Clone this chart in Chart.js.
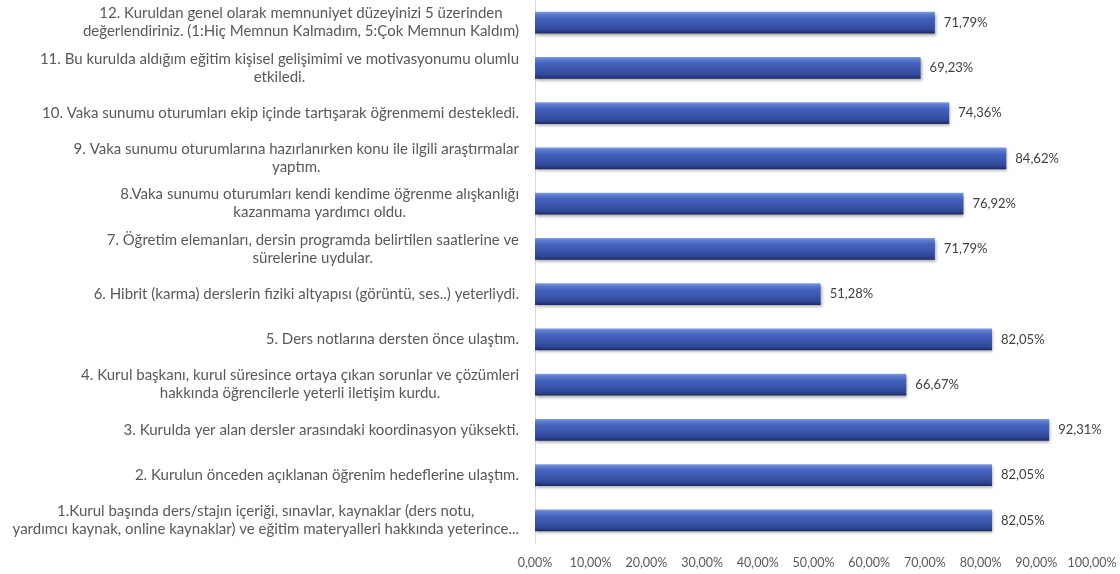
<!DOCTYPE html>
<html>
<head>
<meta charset="utf-8">
<script src="https://cdn.jsdelivr.net/npm/chart.js@4"></script>
<style>
  html, body { margin: 0; padding: 0; background: #fff; }
  #wrap { width: 1120px; height: 574px; position: relative; }
</style>
</head>
<body>
<div id="wrap"><canvas id="surveyChart"></canvas></div>
<script>
const questions = [
  ['1.Kurul başında ders/stajın içeriği, sınavlar, kaynaklar (ders notu,', 'yardımcı kaynak, online kaynaklar) ve eğitim materyalleri hakkında yeterince...'],
  ['2. Kurulun önceden açıklanan öğrenim hedeflerine ulaştım.'],
  ['3. Kurulda yer alan dersler arasındaki koordinasyon yüksekti.'],
  ['4. Kurul başkanı, kurul süresince ortaya çıkan sorunlar ve çözümleri', 'hakkında öğrencilerle yeterli iletişim kurdu.'],
  ['5. Ders notlarına dersten önce ulaştım.'],
  ['6. Hibrit (karma) derslerin fiziki altyapısı (görüntü, ses..) yeterliydi.'],
  ['7. Öğretim elemanları, dersin programda belirtilen saatlerine ve', 'sürelerine uydular.'],
  ['8.Vaka sunumu oturumları kendi kendime öğrenme alışkanlığı', 'kazanmama yardımcı oldu.'],
  ['9. Vaka sunumu oturumlarına hazırlanırken konu ile ilgili araştırmalar', 'yaptım.'],
  ['10. Vaka sunumu oturumları ekip içinde tartışarak öğrenmemi destekledi.'],
  ['11. Bu kurulda aldığım eğitim kişisel gelişimimi ve motivasyonumu olumlu', 'etkiledi.'],
  ['12. Kuruldan genel olarak memnuniyet düzeyinizi 5 üzerinden', 'değerlendiriniz. (1:Hiç Memnun Kalmadım, 5:Çok Memnun Kaldım)']
];
const percentages = [82.05, 82.05, 92.31, 66.67, 82.05, 51.28, 71.79, 76.92, 84.62, 74.36, 69.23, 71.79];
const axisMin = 0;
const axisMax = 100;
const axisStep = 10;

const FONT = 'Lato, "Open Sans", sans-serif';
const TEXT = '#595959';

function pct(v) {
  return v.toFixed(2).replace('.', ',') + '%';
}

// cylinder-like gradient for each bar, like the office 3D bar style
function barFill(c) {
  const chart = c.chart;
  if (!chart.chartArea || c.dataIndex === undefined) return '#3f5db8';
  const y = chart.scales.y;
  const mid = y.getPixelForValue(c.dataIndex);
  const half = Math.abs(y.getPixelForValue(1) - y.getPixelForValue(0)) * 0.486 / 2;
  const g = chart.ctx.createLinearGradient(0, mid - half, 0, mid + half);
  g.addColorStop(0, '#86a2e6');
  g.addColorStop(0.1, '#5f7fd4');
  g.addColorStop(0.3, '#4462bd');
  g.addColorStop(0.6, '#3a55aa');
  g.addColorStop(0.85, '#2e4593');
  g.addColorStop(1, '#1b285c');
  return g;
}

const barShadow = {
  id: 'barShadow',
  beforeDatasetsDraw(chart) {
    const ctx = chart.ctx;
    ctx.save();
    ctx.shadowColor = 'rgba(0,0,0,0.35)';
    ctx.shadowBlur = 3;
    ctx.shadowOffsetY = 2;
    ctx.shadowOffsetX = 1;
  },
  afterDatasetsDraw(chart) {
    chart.ctx.restore();
  }
};

const valueLabels = {
  id: 'valueLabels',
  afterDraw(chart) {
    const ctx = chart.ctx;
    const meta = chart.getDatasetMeta(0);
    ctx.save();
    ctx.font = '13px ' + FONT;
    ctx.fillStyle = '#404040';
    ctx.textAlign = 'left';
    ctx.textBaseline = 'middle';
    meta.data.forEach((bar, i) => {
      ctx.fillText(pct(percentages[i]), bar.x + 9, bar.y);
    });
    ctx.restore();
  }
};

// question labels: blocks sit flush to the axis, lines centered inside the block
const questionLabels = {
  id: 'questionLabels',
  afterDraw(chart) {
    const ctx = chart.ctx;
    const y = chart.scales.y;
    const right = chart.chartArea.left - 16;
    const lineH = 18;
    ctx.save();
    ctx.font = '15px ' + FONT;
    ctx.fillStyle = TEXT;
    ctx.textAlign = 'center';
    ctx.textBaseline = 'middle';
    questions.forEach((lines, i) => {
      const w = Math.max(...lines.map(l => ctx.measureText(l).width));
      const cx = Math.max(right - w / 2, 8 + w / 2);
      const cy = y.getPixelForValue(i);
      const top = cy - (lines.length - 1) * lineH / 2;
      lines.forEach((l, k) => ctx.fillText(l, cx, top + k * lineH));
    });
    ctx.restore();
  }
};

new Chart(document.getElementById('surveyChart'), {
  type: 'bar',
  data: {
    labels: questions.map(q => q.join(' ')),
    datasets: [{
      data: percentages,
      backgroundColor: barFill,
      borderWidth: 0,
      categoryPercentage: 1,
      barPercentage: 0.486
    }]
  },
  options: {
    indexAxis: 'y',
    responsive: true,
    maintainAspectRatio: false,
    animation: false,
    layout: { padding: { top: 0, right: 28, left: 0, bottom: 0 } },
    scales: {
      x: {
        min: axisMin,
        max: axisMax,
        grid: { display: false, drawTicks: false },
        border: { display: false },
        ticks: {
          stepSize: axisStep,
          padding: 12,
          color: TEXT,
          font: { family: FONT, size: 12.5 },
          callback: v => pct(v)
        },
        afterFit(scale) {
          scale.height = 31;
          scale.paddingRight = 0;
          scale.paddingLeft = 0;
        }
      },
      y: {
        reverse: true,
        grid: { display: false, drawTicks: false },
        border: { display: true, color: '#d9d9d9', width: 1 },
        ticks: { display: false },
        afterFit(scale) { scale.width = 535; }
      }
    },
    plugins: {
      legend: { display: false },
      tooltip: { enabled: false }
    }
  },
  plugins: [barShadow, valueLabels, questionLabels]
});
</script>
</body>
</html>
